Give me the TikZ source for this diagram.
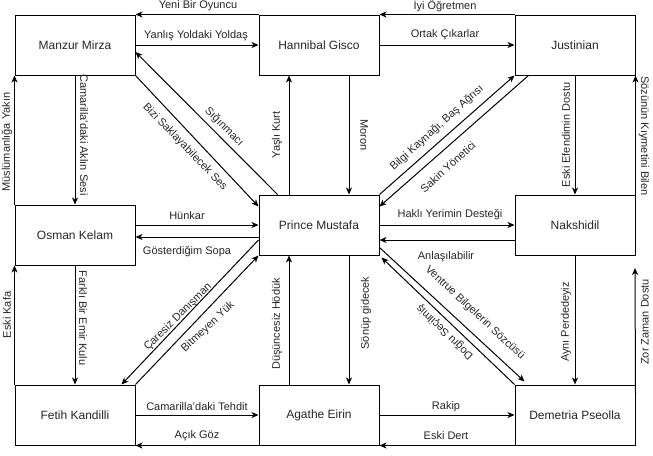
\documentclass[tikz,border=0pt]{standalone}
\usepackage{fontspec}
\setmainfont{Liberation Sans}
\usetikzlibrary{arrows.meta}
\begin{document}
\begin{tikzpicture}[x=1pt,y=-1pt,
  box/.style={draw, line width=1pt, fill=white, minimum width=120pt,
    minimum height=60pt, inner sep=0pt, font=\fontsize{12}{14}\selectfont, text=black!85},
  link/.style={line width=1pt, -{Stealth[length=7pt,width=6pt,inset=2pt]}},
  lbl/.style={inner sep=0pt, font=\fontsize{11}{13}\selectfont, text=black!85},
]
\useasboundingbox (0,0) rectangle (653,455);

% characters
\node[box] (mm) at (75,45)  {Manzur Mirza};
\node[box] (hg) at (319,45) {Hannibal Gisco};
\node[box] (ju) at (575,45) {Justinian};
\node[box] (ok) at (75,235) {Osman Kelam};
\node[box] (pm) at (319,225) {Prince Mustafa};
\node[box] (nk) at (575,225) {Nakshidil};
\node[box] (fk) at (75,415) {Fetih Kandilli};
\node[box] (ag) at (319,415) {Agathe Eirin};
\node[box] (dp) at (575,415) {Demetria Pseolla};
\coordinate (zz) at (635,268);

% top row
\draw[link] (hg.north west) -- (mm.north east);
\draw[link] (mm.east) -- (hg.west);
\draw[link] (ju.north west) -- (hg.north east);
\draw[link] (hg.east) -- (ju.west);
\node[lbl] (l1) at (198,6) {Yeni Bir Oyuncu};
\node[lbl] (l2) at (196,36) {Yanlış Yoldaki Yoldaş};
\node[lbl] (l3) at (445,6) {İyi Öğretmen};
\node[lbl] (l4) at (445,35) {Ortak Çıkarlar};

% top row to middle row
\draw[link] (mm.south) -- (ok.north);
\draw[link] (ok.north west) -- (mm.south west);
\draw[link] (mm.south east) -- ([yshift=-12pt]pm.north west);
\draw[link] ([xshift=19pt]pm.north west) -- ([yshift=-7pt]mm.east);
\draw[link] ([xshift=-30pt]pm.north) -- ([xshift=-30pt]hg.south);
\draw[link] ([xshift=30pt]hg.south) -- ([xshift=30pt]pm.north);
\draw[link] (pm.north east) -- (ju.south west);
\draw[link] ([xshift=14pt]ju.south west) -- ([yshift=-12pt]pm.north east);
\draw[link] (ju.south) -- (nk.north);
\draw[link] (nk.north east) -- (ju.south east);
\node[lbl,rotate=-90] (l5) at (84,135) {Camarilla'daki Aklın Sesi};
\node[lbl,rotate=90] (l6) at (7,142) {Müslümanlığa Yakın};
\node[lbl,rotate=-45] (l7) at (224,127) {Sığınmacı};
\node[lbl,rotate=-46] (l8) at (185,147) {Bizi Saklayabilecek Ses};
\node[lbl,rotate=90] (l9) at (277,135) {Yaşlı Kurt};
\node[lbl,rotate=-90] (l10) at (364,135) {Moron};
\node[lbl,rotate=42] (l11) at (437,128) {Bilgi Kaynağı, Baş Ağrısı};
\node[lbl,rotate=42] (l12) at (448,167) {Sakin Yönetici};
\node[lbl,rotate=90] (l13) at (566,135) {Eski Efendimin Dostu};
\node[lbl,rotate=-90] (l14) at (644,136) {Sözünün Kıymetini Bilen};

% middle row
\draw[link] ([yshift=10pt]ok.east) -- (pm.west);
\draw[link] ([yshift=-12pt]pm.west) -- ([yshift=-2pt]ok.east);
\draw[link] (pm.east) -- (nk.west);
\draw[link] ([yshift=-15pt]nk.west) -- ([yshift=-15pt]pm.east);
\node[lbl] (l15) at (187,216) {Hünkar};
\node[lbl] (l16) at (187,252) {Gösterdiğim Sopa};
\node[lbl] (l17) at (450,215) {Haklı Yerimin Desteği};
\node[lbl] (l18) at (446,257) {Anlaşılabilir};

% middle row to bottom row
\draw[link] (ok.south) -- (fk.north);
\draw[link] (fk.north west) -- (ok.south west);
\draw[link] ([yshift=-15pt]pm.west) -- ([xshift=-14pt]fk.north east);
\draw[link] (fk.north east) -- (pm.south west);
\draw[link] ([xshift=-30pt]ag.north) -- ([xshift=-30pt]pm.south);
\draw[link] ([xshift=30pt]pm.south) -- ([xshift=30pt]ag.north);
\draw[link] ([yshift=8pt]pm.south east) -- ([xshift=10pt,yshift=3pt]dp.north west);
\draw[link] (dp.north west) -- ([shift={(2pt,-2pt)}]pm.south east);
\draw[link] (nk.south) -- (dp.north);
\draw[link] ([yshift=-10pt]dp.north east) -- (zz);
\node[lbl,rotate=-90] (l19) at (83,318) {Farklı Bir Emir Kulu};
\node[lbl,rotate=90] (l20) at (7,315) {Eski Kafa};
\node[lbl,rotate=45] (l21) at (178,317) {Çaresiz Danışman};
\node[lbl,rotate=43] (l22) at (208,327) {Bitmeyen Yük};
\node[lbl,rotate=90] (l23) at (277,324) {Düşüncesiz Hödük};
\node[lbl,rotate=90] (l24) at (366,313) {Sönüp gidecek};
\node[lbl,rotate=-43] (l25) at (475,313) {Ventrue Bilgelerin Sözcüsü};
\node[lbl,rotate=136] (l26) at (445,332) {Doğru Seçilmiş};
\node[lbl,rotate=90] (l27) at (566,322) {Aynı Perdedeyiz};
\node[lbl,rotate=90] (l28) at (645,322) {Zor Zaman Dostu};

% bottom row
\draw[link] (fk.east) -- (ag.west);
\draw[link] (ag.south west) -- (fk.south east);
\draw[link] (ag.east) -- (dp.west);
\draw[link] (dp.south west) -- (ag.south east);
\node[lbl] (l29) at (197,407) {Camarilla'daki Tehdit};
\node[lbl] (l30) at (197,436) {Açık Göz};
\node[lbl] (l31) at (446,407) {Rakip};
\node[lbl] (l32) at (446,436) {Eski Dert};
\end{tikzpicture}
\end{document}
